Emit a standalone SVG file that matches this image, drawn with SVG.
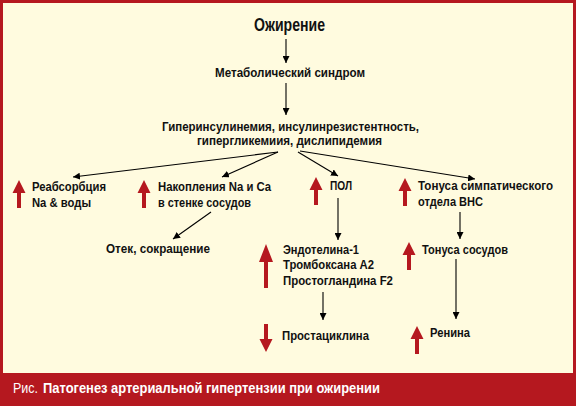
<svg xmlns="http://www.w3.org/2000/svg" width="576" height="406" viewBox="0 0 576 406">
<defs>
<style>
.t{font-family:"Liberation Sans",Arial,sans-serif;font-weight:bold;font-size:13.5px;fill:#111}
.ln{stroke:#000;stroke-width:1.1;fill:none;marker-end:url(#ah)}
.ra{fill:#B5181F}
</style>
<marker id="ah" viewBox="0 0 10 10" refX="10" refY="5" markerWidth="7" markerHeight="7" markerUnits="userSpaceOnUse" orient="auto">
<path d="M0,0 L10,5 L0,10 z" fill="#000"/>
</marker>
<path id="up" d="M0,0 L6.5,13 L2,13 L2,28 L-2,28 L-2,13 L-6.5,13 Z"/>
</defs>
<rect x="0" y="0" width="576" height="406" fill="#B5181F"/>
<rect x="3" y="3" width="570" height="370" fill="#FFFBDF"/>

<g id="connectors">
<line class="ln" x1="286" y1="39" x2="286" y2="63"/>
<line class="ln" x1="286" y1="83" x2="286" y2="115"/>
<line class="ln" x1="278" y1="152" x2="73" y2="177"/>
<line class="ln" x1="278" y1="152" x2="222" y2="177"/>
<line class="ln" x1="298" y1="152" x2="338" y2="176"/>
<line class="ln" x1="300" y1="151" x2="475" y2="179"/>
<line class="ln" x1="211" y1="212" x2="173" y2="239"/>
<line class="ln" x1="338" y1="198" x2="338" y2="240"/>
<line class="ln" x1="460" y1="212" x2="460" y2="239"/>
<line class="ln" x1="323" y1="292" x2="323" y2="320"/>
<line class="ln" x1="456" y1="259" x2="456" y2="319"/>
</g>

<g id="n-obesity"><text class="t" x="254" y="31" style="font-size:19px" textLength="71" lengthAdjust="spacingAndGlyphs">Ожирение</text></g>
<g id="n-metabolic"><text class="t" x="215" y="77" textLength="150" lengthAdjust="spacingAndGlyphs">Метаболический синдром</text></g>
<g id="n-hyper">
<text class="t" x="162" y="131" textLength="257" lengthAdjust="spacingAndGlyphs">Гиперинсулинемия, инсулинрезистентность,</text>
<text class="t" x="197" y="145" textLength="185" lengthAdjust="spacingAndGlyphs">гипергликемиия, дислипидемия</text>
</g>
<g id="n-reabs">
<use href="#up" class="ra" x="19" y="180"/>
<text class="t" x="32" y="191" textLength="74" lengthAdjust="spacingAndGlyphs">Реабсорбция</text>
<text class="t" x="32" y="207" textLength="59" lengthAdjust="spacingAndGlyphs">Na &amp; воды</text>
</g>
<g id="n-accum">
<use href="#up" class="ra" x="144" y="180"/>
<text class="t" x="158" y="191" textLength="113" lengthAdjust="spacingAndGlyphs">Накопления Na и Ca</text>
<text class="t" x="158" y="207" textLength="93" lengthAdjust="spacingAndGlyphs">в стенке сосудов</text>
</g>
<g id="n-edema"><text class="t" x="106" y="253" textLength="104" lengthAdjust="spacingAndGlyphs">Отек, сокращение</text></g>
<g id="n-pol">
<use href="#up" class="ra" x="316" y="177"/>
<text class="t" x="330" y="190" textLength="22" lengthAdjust="spacingAndGlyphs">ПОЛ</text>
</g>
<g id="n-symp">
<use href="#up" class="ra" x="405" y="178"/>
<text class="t" x="418" y="190" textLength="135" lengthAdjust="spacingAndGlyphs">Тонуса симпатического</text>
<text class="t" x="418" y="206" textLength="65" lengthAdjust="spacingAndGlyphs">отдела ВНС</text>
</g>
<g id="n-endo">
<path class="ra" d="M266,244 L273,262 L268,262 L268,288 L264,288 L264,262 L259,262 Z"/>
<text class="t" x="283" y="254" textLength="76" lengthAdjust="spacingAndGlyphs">Эндотелина-1</text>
<text class="t" x="283" y="269" textLength="91" lengthAdjust="spacingAndGlyphs">Тромбоксана А2</text>
<text class="t" x="283" y="285" textLength="110" lengthAdjust="spacingAndGlyphs">Простогландина F2</text>
</g>
<g id="n-vessel">
<use href="#up" class="ra" x="409" y="242"/>
<text class="t" x="422" y="254" textLength="86" lengthAdjust="spacingAndGlyphs">Тонуса сосудов</text>
</g>
<g id="n-prostacyclin">
<use href="#up" class="ra" transform="translate(266,352) scale(1,-1)"/>
<text class="t" x="282" y="340" textLength="87" lengthAdjust="spacingAndGlyphs">Простациклина</text>
</g>
<g id="n-renin">
<use href="#up" class="ra" x="417" y="326"/>
<text class="t" x="430" y="337" textLength="40" lengthAdjust="spacingAndGlyphs">Ренина</text>
</g>

<g id="caption">
<text x="13" y="393" style="font-family:'Liberation Sans',Arial,sans-serif;font-size:15px;fill:#fff" textLength="25" lengthAdjust="spacingAndGlyphs">Рис.</text>
<text x="43" y="393" style="font-family:'Liberation Sans',Arial,sans-serif;font-size:15px;font-weight:bold;fill:#fff" textLength="337" lengthAdjust="spacingAndGlyphs">Патогенез артериальной гипертензии при ожирении</text>
</g>
</svg>
